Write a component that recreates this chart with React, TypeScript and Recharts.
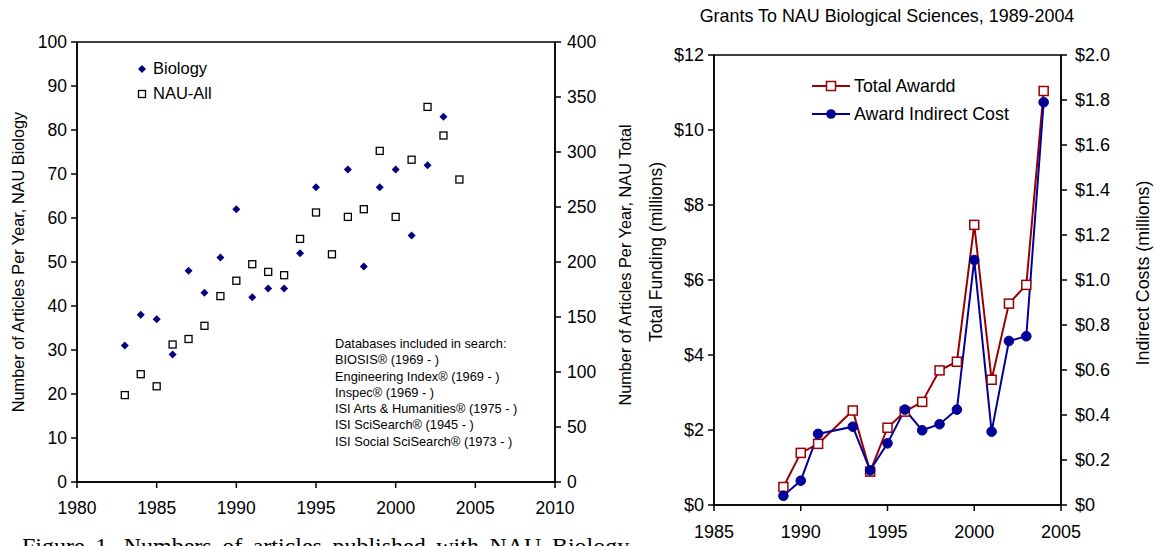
import {
  Line,
  LineChart,
  ReferenceArea,
  Scatter,
  ScatterChart,
  XAxis,
  YAxis
} from 'recharts'

// --- Figure 1 (articles per year) ---
const BIO_YEARS = [1983, 1984, 1985, 1986, 1987, 1988, 1989, 1990, 1991, 1992, 1993, 1994, 1995, 1997, 1998, 1999, 2000, 2001, 2002, 2003]
const BIO_VALUES = [31, 38, 37, 29, 48, 43, 51, 62, 42, 44, 44, 52, 67, 71, 49, 67, 71, 56, 72, 83]
const NAU_YEARS = [1983, 1984, 1985, 1986, 1987, 1988, 1989, 1990, 1991, 1992, 1993, 1994, 1995, 1996, 1997, 1998, 1999, 2000, 2001, 2002, 2003, 2004]
const NAU_VALUES = [79, 98, 87, 125, 130, 142, 169, 183, 198, 191, 188, 221, 245, 207, 241, 248, 301, 241, 293, 341, 315, 275]
const ART_X_TICKS = [1980, 1985, 1990, 1995, 2000, 2005, 2010]
const BIO_TICKS = [0, 10, 20, 30, 40, 50, 60, 70, 80, 90, 100]
const NAU_TICKS = [0, 50, 100, 150, 200, 250, 300, 350, 400]
const DATABASES = [
  'Databases included in search:',
  'BIOSIS® (1969 - )',
  'Engineering Index® (1969 - )',
  'Inspec® (1969 - )',
  'ISI Arts & Humanities® (1975 - )',
  'ISI SciSearch® (1945 - )',
  'ISI Social SciSearch® (1973 - )'
]

// --- Grants chart ---
const GRANT_YEARS = [1989, 1990, 1991, 1993, 1994, 1995, 1996, 1997, 1998, 1999, 2000, 2001, 2002, 2003, 2004]
const TOTAL_AWARD = [0.48, 1.39, 1.63, 2.52, 0.89, 2.06, 2.49, 2.75, 3.59, 3.82, 7.47, 3.34, 5.37, 5.87, 11.04]
const INDIRECT_COST = [0.041, 0.108, 0.316, 0.348, 0.154, 0.274, 0.424, 0.332, 0.359, 0.424, 1.089, 0.326, 0.729, 0.75, 1.79]
const GRANT_X_TICKS = [1985, 1990, 1995, 2000, 2005]
const TOTAL_TICKS = [0, 2, 4, 6, 8, 10, 12]
const INDIRECT_TICKS = [0, 0.2, 0.4, 0.6, 0.8, 1.0, 1.2, 1.4, 1.6, 1.8, 2.0]

const FONT = '"Liberation Sans", Arial, sans-serif'
const NAVY = '#000080'
const RED = '#990000'
const BLUE = '#000099'

const bioData = BIO_YEARS.map((year, i) => ({ year, v: BIO_VALUES[i] }))
const nauData = NAU_YEARS.map((year, i) => ({ year, v: NAU_VALUES[i] }))
const grantData = GRANT_YEARS.map((year, i) => ({ year, total: TOTAL_AWARD[i], indirect: INDIRECT_COST[i] }))

const leftTick = { fill: '#000', fontSize: 17.5, fontFamily: FONT }
const rightTick = { fill: '#000', fontSize: 18, fontFamily: FONT }
const axisStyle = { stroke: '#000', strokeWidth: 1.5 }

function Diamond(p: any) {
  const { cx, cy } = p
  const r = 4
  return <polygon points={`${cx},${cy - r} ${cx + r},${cy} ${cx},${cy + r} ${cx - r},${cy}`} fill={NAVY} />
}

function OpenSquare(p: any) {
  const { cx, cy } = p
  return <rect x={cx - 3.5} y={cy - 3.5} width={7} height={7} fill="#fff" stroke="#000" strokeWidth={1.3} />
}

function RedSquareDot(p: any) {
  const { cx, cy, index } = p
  return <rect key={`t-${index}`} x={cx - 4.5} y={cy - 4.5} width={9} height={9} fill="#fff" stroke={RED} strokeWidth={1.5} />
}

function BlueDot(p: any) {
  const { cx, cy, index } = p
  return <circle key={`i-${index}`} cx={cx} cy={cy} r={4.8} fill={BLUE} stroke={BLUE} />
}

function VText({ x, y, size, children }: { x: number; y: number; size: number; children: string }) {
  return (
    <div
      style={{
        position: 'absolute',
        left: x,
        top: y,
        transform: 'translate(-50%, -50%) rotate(-90deg)',
        whiteSpace: 'nowrap',
        fontSize: size,
        fontFamily: FONT
      }}
    >
      {children}
    </div>
  )
}

export default function App() {
  return (
    <div
      style={{
        position: 'absolute',
        left: 0,
        top: 0,
        width: 1156,
        height: 546,
        overflow: 'hidden',
        background: '#fff',
        fontFamily: FONT,
        color: '#000'
      }}
    >
      {/* 左：論文数 */}
      <div style={{ position: 'absolute', left: 0, top: 0 }}>
        <ScatterChart width={640} height={546} margin={{ top: 42, right: 0, bottom: 34, left: 0 }}>
          <XAxis
            type="number"
            dataKey="year"
            domain={[1980, 2010]}
            ticks={ART_X_TICKS}
            tick={leftTick}
            axisLine={axisStyle}
            tickLine={axisStyle}
            tickSize={6}
            tickMargin={14}
            height={30}
          />
          <YAxis
            yAxisId="left"
            type="number"
            dataKey="v"
            domain={[0, 100]}
            ticks={BIO_TICKS}
            tick={leftTick}
            axisLine={axisStyle}
            tickLine={axisStyle}
            tickSize={6}
            tickMargin={4}
            width={77}
          />
          <YAxis
            yAxisId="right"
            orientation="right"
            type="number"
            dataKey="v"
            domain={[0, 400]}
            ticks={NAU_TICKS}
            tick={leftTick}
            axisLine={axisStyle}
            tickLine={axisStyle}
            tickSize={6}
            tickMargin={6}
            width={85}
          />
          <ReferenceArea yAxisId="left" x1={1980} x2={2010} y1={0} y2={100} fill="none" stroke="#000" strokeWidth={1.5} />
          <Scatter yAxisId="left" data={bioData} shape={Diamond} isAnimationActive={false} />
          <Scatter yAxisId="right" data={nauData} shape={OpenSquare} isAnimationActive={false} />
        </ScatterChart>
      </div>

      {/* 右：助成金 */}
      <div style={{ position: 'absolute', left: 640, top: 0 }}>
        <LineChart width={516} height={546} data={grantData} margin={{ top: 55, right: 0, bottom: 11, left: 0 }}>
          <XAxis
            type="number"
            dataKey="year"
            domain={[1985, 2005]}
            ticks={GRANT_X_TICKS}
            tick={rightTick}
            axisLine={axisStyle}
            tickLine={axisStyle}
            tickSize={6}
            tickMargin={14}
            height={30}
          />
          <YAxis
            yAxisId="total"
            type="number"
            domain={[0, 12]}
            ticks={TOTAL_TICKS}
            tickFormatter={(v) => `$${v}`}
            tick={rightTick}
            axisLine={axisStyle}
            tickLine={axisStyle}
            tickSize={6}
            tickMargin={4}
            width={74}
          />
          <YAxis
            yAxisId="indirect"
            orientation="right"
            type="number"
            domain={[0, 2]}
            ticks={INDIRECT_TICKS}
            tickFormatter={(v) => (v === 0 ? '$0' : `$${Number(v).toFixed(1)}`)}
            tick={rightTick}
            axisLine={axisStyle}
            tickLine={axisStyle}
            tickSize={6}
            tickMargin={8}
            width={95}
          />
          <ReferenceArea yAxisId="total" x1={1985} x2={2005} y1={0} y2={12} fill="none" stroke="#000" strokeWidth={1.5} />
          <Line
            yAxisId="total"
            dataKey="total"
            stroke={RED}
            strokeWidth={2}
            dot={RedSquareDot}
            isAnimationActive={false}
          />
          <Line
            yAxisId="indirect"
            dataKey="indirect"
            stroke={BLUE}
            strokeWidth={2}
            dot={BlueDot}
            isAnimationActive={false}
          />
        </LineChart>
      </div>

      {/* 軸タイトル */}
      <VText x={18} y={262} size={16.3}>Number of Articles Per Year, NAU Biology</VText>
      <VText x={625} y={265} size={16.3}>Number of Articles Per Year, NAU Total</VText>
      <VText x={656} y={252} size={17.5}>Total Funding (millions)</VText>
      <VText x={1143} y={273} size={17.8}>Indirect Costs (millions)</VText>

      <div style={{ position: 'absolute', left: 887, top: 16, transform: 'translate(-50%, -50%)', whiteSpace: 'nowrap', fontSize: 17.9 }}>
        Grants To NAU Biological Sciences, 1989-2004
      </div>

      {/* 凡例（左） */}
      <div style={{ position: 'absolute', left: 136, top: 56, fontSize: 16.5, lineHeight: '25px' }}>
        <div style={{ display: 'flex', alignItems: 'center' }}>
          <svg width={12} height={12} style={{ marginRight: 5 }}>
            <polygon points="6,2 10,6 6,10 2,6" fill={NAVY} />
          </svg>
          Biology
        </div>
        <div style={{ display: 'flex', alignItems: 'center' }}>
          <svg width={12} height={12} style={{ marginRight: 5 }}>
            <rect x={2.5} y={2.5} width={7} height={7} fill="#fff" stroke="#000" strokeWidth={1.3} />
          </svg>
          NAU-All
        </div>
      </div>

      {/* データベース注記 */}
      <div style={{ position: 'absolute', left: 335, top: 336, fontSize: 12.8, lineHeight: '16.3px', whiteSpace: 'nowrap' }}>
        {DATABASES.map((d) => (
          <div key={d}>{d}</div>
        ))}
      </div>

      {/* 凡例（右） */}
      <div style={{ position: 'absolute', left: 812, top: 72, fontSize: 17.8, lineHeight: '28px' }}>
        <div style={{ display: 'flex', alignItems: 'center' }}>
          <svg width={40} height={12} style={{ marginRight: 2 }}>
            <line x1={0} y1={6} x2={38} y2={6} stroke={RED} strokeWidth={2} />
            <rect x={14.5} y={1.5} width={9} height={9} fill="#fff" stroke={RED} strokeWidth={1.5} />
          </svg>
          Total Awardd
        </div>
        <div style={{ display: 'flex', alignItems: 'center' }}>
          <svg width={40} height={12} style={{ marginRight: 2 }}>
            <line x1={0} y1={6} x2={38} y2={6} stroke={BLUE} strokeWidth={2} />
            <circle cx={19} cy={6} r={4.8} fill={BLUE} />
          </svg>
          Award Indirect Cost
        </div>
      </div>

      {/* 図キャプション（下で切れている） */}
      <div
        style={{
          position: 'absolute',
          left: 22,
          top: 533,
          fontSize: 24,
          fontFamily: '"Liberation Serif", "Times New Roman", serif',
          whiteSpace: 'nowrap',
          wordSpacing: 4.5
        }}
      >
        Figure 1. Numbers of articles published with NAU Biology
      </div>
    </div>
  )
}
